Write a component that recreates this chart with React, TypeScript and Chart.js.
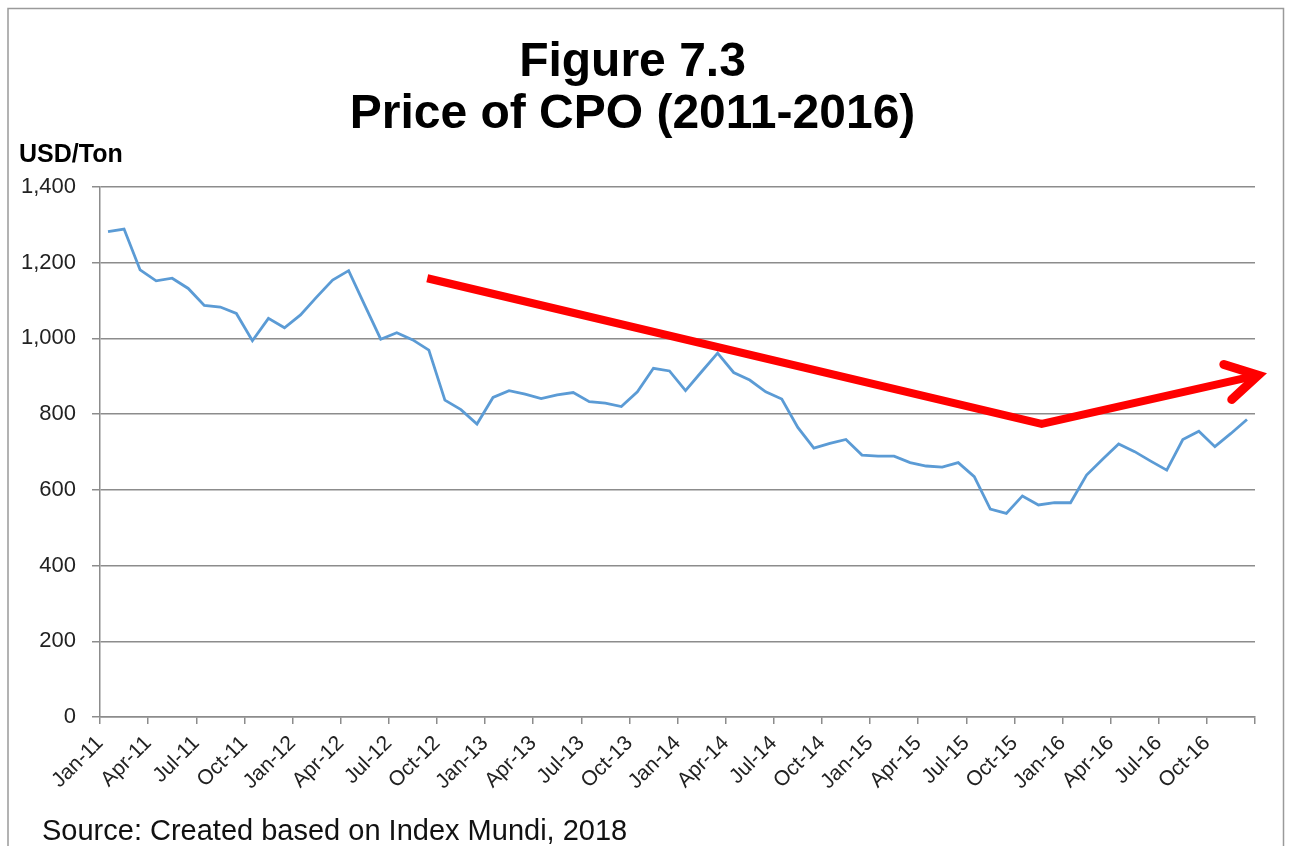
import React, { useEffect, useRef } from 'react';
import { Chart, registerables } from 'chart.js';

Chart.register(...registerables);

// ---- data ----
const MONTHS = ['Jan', 'Feb', 'Mar', 'Apr', 'May', 'Jun', 'Jul', 'Aug', 'Sep', 'Oct', 'Nov', 'Dec'];
const YEARS = ['11', '12', '13', '14', '15', '16'];
const PRICES_2011 = [1282, 1289, 1181, 1152, 1159, 1132, 1087, 1083, 1066, 994, 1053, 1028];
const PRICES_2012 = [1062, 1109, 1154, 1179, 1088, 998, 1015, 996, 969, 837, 812, 774];
const PRICES_2013 = [844, 862, 853, 841, 851, 857, 833, 829, 820, 859, 921, 914];
const PRICES_2014 = [862, 912, 961, 910, 890, 859, 840, 765, 710, 723, 733, 692];
const PRICES_2015 = [689, 689, 672, 663, 660, 672, 635, 549, 538, 584, 560, 566];
const PRICES_2016 = [566, 639, 681, 721, 701, 676, 652, 733, 755, 714, 749, 786];
const PRICES = [...PRICES_2011, ...PRICES_2012, ...PRICES_2013, ...PRICES_2014, ...PRICES_2015, ...PRICES_2016];
const CATEGORIES = YEARS.flatMap((y) => MONTHS.map((m) => `${m}-${y}`));
const Y_MIN = 0;
const Y_MAX = 1400;
const Y_STEP = 200;
const X_LABEL_STEP = 3;
// trend arrow (month index, USD/Ton)
const ARROW_X = [20.4, 58.7, 72.2];
const ARROW_Y = [1159, 774, 903];

const TITLE = ['Figure 7.3', 'Price of CPO (2011-2016)'];
const UNIT = 'USD/Ton';
const SOURCE = 'Source: Created based on Index Mundi, 2018';

const FONT = "'Liberation Sans', Arial, Helvetica, sans-serif";

const decorPlugin = {
  id: 'decor',
  beforeDraw(chart: any) {
    const ctx = chart.ctx;
    ctx.save();
    ctx.fillStyle = '#ffffff';
    ctx.fillRect(0, 0, chart.width, chart.height);
    ctx.strokeStyle = '#9a9a9a';
    ctx.lineWidth = 1.5;
    ctx.beginPath();
    ctx.moveTo(8, chart.height);
    ctx.lineTo(8, 8.5);
    ctx.lineTo(1283.5, 8.5);
    ctx.lineTo(1283.5, chart.height);
    ctx.stroke();
    ctx.restore();
  },
  afterDraw(chart: any) {
    const ctx = chart.ctx;
    ctx.save();
    ctx.fillStyle = '#000';
    ctx.textAlign = 'left';
    ctx.textBaseline = 'alphabetic';
    ctx.font = `bold 25px ${FONT}`;
    ctx.fillText(UNIT, 19, 162);
    ctx.fillStyle = '#111';
    ctx.font = `29px ${FONT}`;
    ctx.fillText(SOURCE, 42, 840);
    ctx.restore();
  },
};

const arrowPlugin = {
  id: 'trendArrow',
  afterDatasetsDraw(chart: any) {
    const { ctx, scales } = chart;
    const pts = ARROW_X.map((x, i) => ({
      x: scales.x.getPixelForValue(x),
      y: scales.y.getPixelForValue(ARROW_Y[i]),
    }));
    ctx.save();
    ctx.strokeStyle = '#f00';
    ctx.lineWidth = 8;
    ctx.lineJoin = 'miter';
    ctx.lineCap = 'butt';
    ctx.beginPath();
    ctx.moveTo(pts[0].x, pts[0].y);
    for (let i = 1; i < pts.length; i++) ctx.lineTo(pts[i].x, pts[i].y);
    ctx.stroke();
    const a = pts[pts.length - 2];
    const b = pts[pts.length - 1];
    const ang = Math.atan2(b.y - a.y, b.x - a.x);
    const len = 36;
    const spread = (30 * Math.PI) / 180;
    ctx.lineWidth = 9;
    ctx.lineCap = 'round';
    ctx.beginPath();
    ctx.moveTo(b.x - len * Math.cos(ang - spread), b.y - len * Math.sin(ang - spread));
    ctx.lineTo(b.x, b.y);
    ctx.lineTo(b.x - len * Math.cos(ang + spread), b.y - len * Math.sin(ang + spread));
    ctx.stroke();
    ctx.restore();
  },
};

export default function App() {
  const canvasRef = useRef<HTMLCanvasElement | null>(null);

  useEffect(() => {
    document.body.style.margin = '0';
    const canvas = canvasRef.current;
    if (!canvas) return;
    const chart = new Chart(canvas, {
      type: 'line',
      data: {
        datasets: [
          {
            label: 'CPO',
            data: PRICES.map((v, i) => ({ x: i + 0.5, y: v })),
            borderColor: '#5B9BD5',
            borderWidth: 2.8,
            pointRadius: 0,
            tension: 0,
            fill: false,
          },
        ],
      },
      options: {
        responsive: false,
        animation: false,
        devicePixelRatio: 1,
        layout: { padding: { left: 10, right: 40, top: 0, bottom: 40 } },
        plugins: {
          legend: { display: false },
          tooltip: { enabled: false },
          title: {
            display: true,
            text: TITLE,
            color: '#000',
            font: { family: FONT, size: 48, weight: 'bold', lineHeight: 1.0833 },
            padding: { top: 36.5, bottom: 46.5 },
          },
        },
        scales: {
          x: {
            type: 'linear',
            min: 0,
            max: CATEGORIES.length,
            afterFit: (s: any) => {
              s.height = 89;
            },
            grid: {
              drawOnChartArea: false,
              drawTicks: true,
              tickLength: 7,
              color: '#8c8c8c',
              lineWidth: 1.5,
            },
            border: { display: true, color: '#8c8c8c', width: 1.5 },
            ticks: {
              stepSize: X_LABEL_STEP,
              autoSkip: false,
              maxTicksLimit: 200,
              minRotation: 45,
              maxRotation: 45,
              padding: 7,
              color: '#222',
              font: { family: FONT, size: 21 },
              callback: (v: any) => {
                const i = Math.round(Number(v));
                return i < CATEGORIES.length ? CATEGORIES[i] : '';
              },
            },
          },
          y: {
            min: Y_MIN,
            max: Y_MAX,
            afterFit: (s: any) => {
              s.width = 90;
            },
            grid: {
              color: '#8c8c8c',
              lineWidth: 1.5,
              drawTicks: true,
              tickLength: 8,
            },
            border: { display: true, color: '#8c8c8c', width: 1.5 },
            ticks: {
              stepSize: Y_STEP,
              padding: 16,
              color: '#222',
              font: { family: FONT, size: 22 },
              callback: (v: any) => Number(v).toLocaleString('en-US'),
            },
          },
        },
      },
      plugins: [decorPlugin, arrowPlugin],
    });
    return () => chart.destroy();
  }, []);

  return (
    <div style={{ width: 1295, height: 846 }}>
      <canvas ref={canvasRef} width={1295} height={846} style={{ width: 1295, height: 846, display: 'block' }} />
    </div>
  );
}
